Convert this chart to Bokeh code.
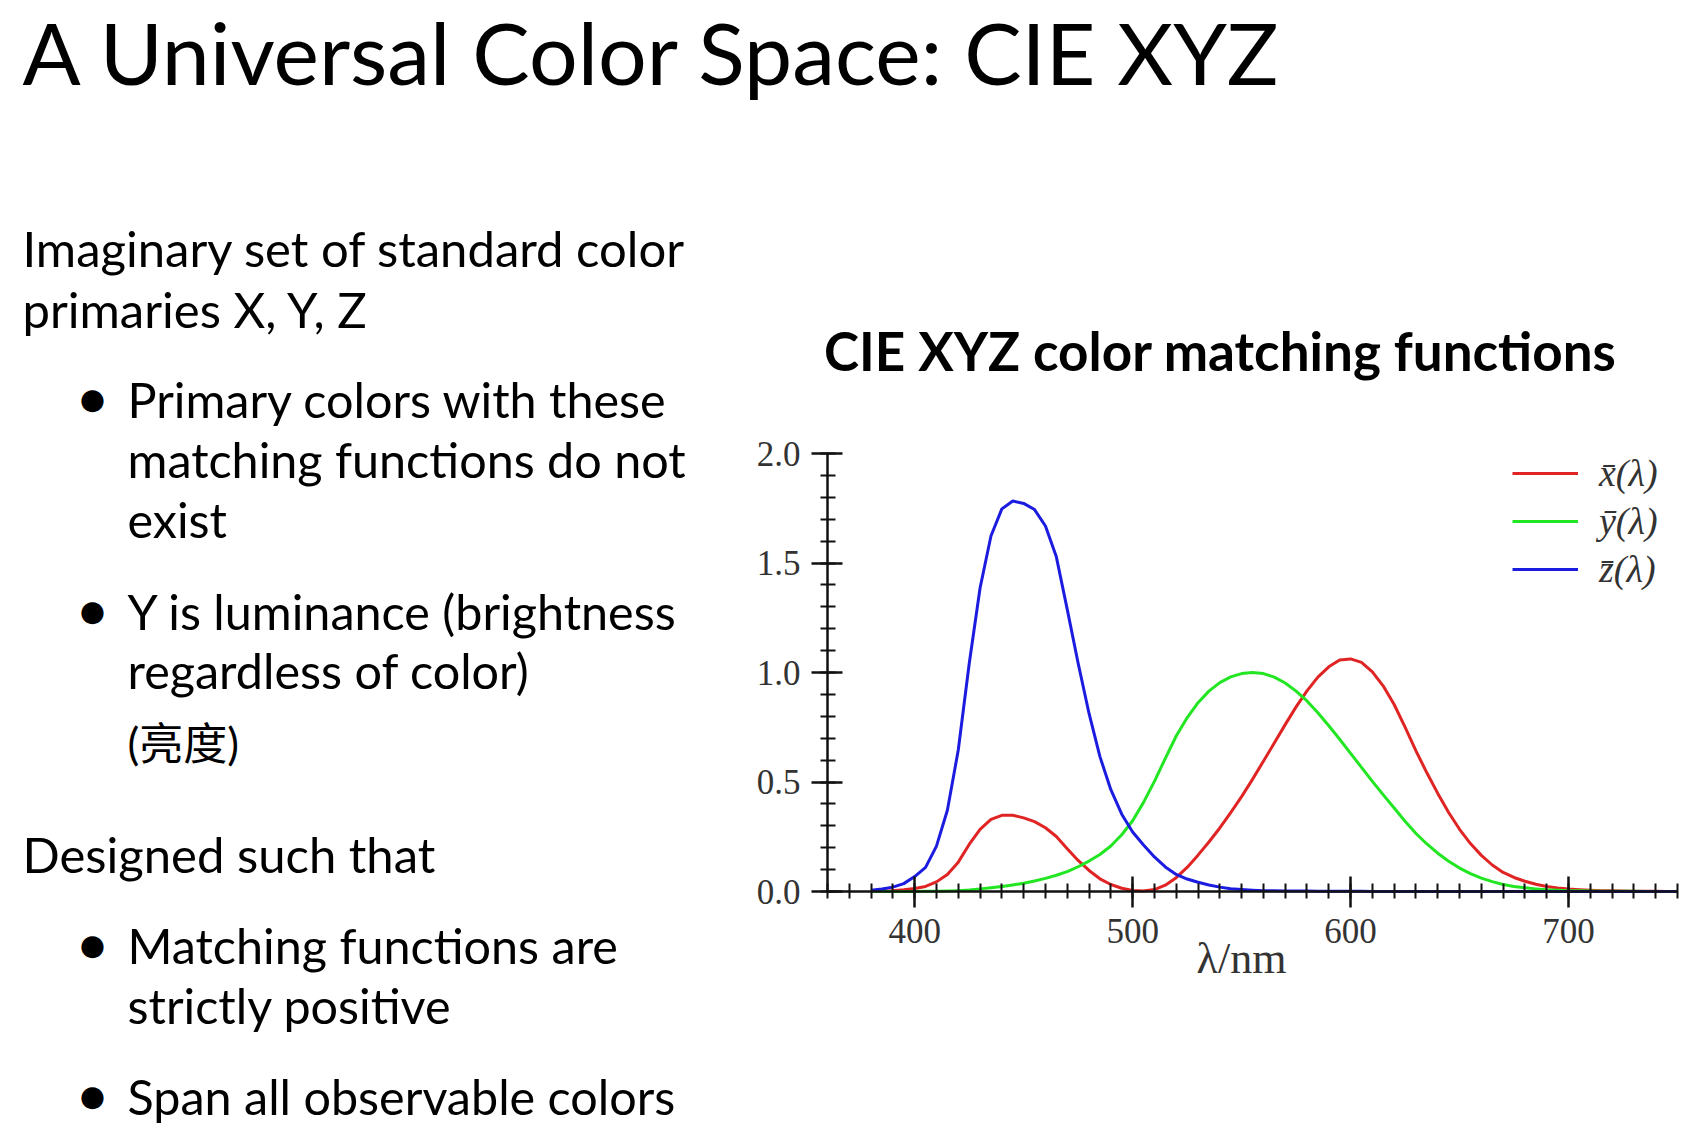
from bokeh.plotting import figure
from bokeh.models import (FixedTicker, PrintfTickFormatter, Legend,
                          LegendItem, Range1d)
from bokeh.core.properties import value
from bokeh.embed import file_html
from bokeh.resources import INLINE

# ---------------- data ----------------
wavelength = [380, 385, 390, 395, 400, 405, 410, 415, 420, 425, 430, 435, 440,
              445, 450, 455, 460, 465, 470, 475, 480, 485, 490, 495, 500, 505,
              510, 515, 520, 525, 530, 535, 540, 545, 550, 555, 560, 565, 570,
              575, 580, 585, 590, 595, 600, 605, 610, 615, 620, 625, 630, 635,
              640, 645, 650, 655, 660, 665, 670, 675, 680, 685, 690, 695, 700,
              705, 710, 715, 720, 725, 730, 735, 740, 745, 750]
x_bar = [0.001, 0.002, 0.004, 0.008, 0.014, 0.023, 0.044, 0.078, 0.134, 0.215,
         0.284, 0.329, 0.348, 0.348, 0.336, 0.319, 0.291, 0.251, 0.195, 0.142,
         0.096, 0.058, 0.032, 0.015, 0.005, 0.002, 0.009, 0.029, 0.063, 0.110,
         0.166, 0.226, 0.290, 0.360, 0.433, 0.512, 0.595, 0.678, 0.762, 0.843,
         0.916, 0.979, 1.026, 1.057, 1.062, 1.046, 1.003, 0.938, 0.854, 0.751,
         0.642, 0.542, 0.448, 0.361, 0.284, 0.219, 0.165, 0.121, 0.087, 0.064,
         0.047, 0.033, 0.023, 0.016, 0.011, 0.008, 0.006, 0.004, 0.003, 0.002,
         0.001, 0.001, 0.001, 0.000, 0.000]
y_bar = [0.000, 0.000, 0.000, 0.000, 0.000, 0.001, 0.001, 0.002, 0.004, 0.007,
         0.012, 0.017, 0.023, 0.030, 0.038, 0.048, 0.060, 0.074, 0.091, 0.113,
         0.139, 0.169, 0.208, 0.259, 0.323, 0.407, 0.503, 0.608, 0.710, 0.793,
         0.862, 0.915, 0.954, 0.980, 0.995, 1.000, 0.995, 0.979, 0.952, 0.915,
         0.870, 0.816, 0.757, 0.695, 0.631, 0.567, 0.503, 0.441, 0.381, 0.321,
         0.265, 0.217, 0.175, 0.138, 0.107, 0.082, 0.061, 0.045, 0.032, 0.023,
         0.017, 0.012, 0.008, 0.006, 0.004, 0.003, 0.002, 0.001, 0.001, 0.001,
         0.001, 0.000, 0.000, 0.000, 0.000]
z_bar = [0.006, 0.011, 0.020, 0.036, 0.068, 0.110, 0.207, 0.371, 0.646, 1.039,
         1.386, 1.623, 1.747, 1.783, 1.772, 1.744, 1.669, 1.528, 1.288, 1.042,
         0.813, 0.616, 0.465, 0.353, 0.272, 0.212, 0.158, 0.112, 0.078, 0.057,
         0.042, 0.030, 0.020, 0.013, 0.009, 0.006, 0.004, 0.003, 0.002, 0.002,
         0.002, 0.001, 0.001, 0.001, 0.001, 0.001, 0.000, 0.000, 0.000, 0.000,
         0.000, 0.000, 0.000, 0.000, 0.000, 0.000, 0.000, 0.000, 0.000, 0.000,
         0.000, 0.000, 0.000, 0.000, 0.000, 0.000, 0.000, 0.000, 0.000, 0.000,
         0.000, 0.000, 0.000, 0.000, 0.000]
series_labels = ["x\u0304(\u03bb)", "y\u0304(\u03bb)", "z\u0304(\u03bb)"]
series_colors = ["#e02424", "#22e622", "#1c1ce0"]
x_major_ticks = [400, 500, 600, 700]
y_major_ticks = [0.0, 0.5, 1.0, 1.5, 2.0]
x_label = "\u03bb/nm"
chart_title = "CIE XYZ color matching functions"
slide_title = "A Universal Color Space: CIE XYZ"
body_lines = ["Imaginary set of standard color", "primaries X, Y, Z",
              "Designed such that"]
bullet_lines = ["Primary colors with these", "matching functions do not",
                "exist", "Y is luminance (brightness", "regardless of color)",
                "Matching functions are", "strictly positive",
                "Span all observable colors"]
cjk_line = "(亮度)"

# ---------------- layout ----------------
W, H = 1692, 1128
AX_L, AX_R, AX_T, AX_B = 827, 1677, 453, 891   # chart axes box, canvas px
X0, X1, Y0, Y1 = 360, 750, 0.0, 2.0             # chart data extents
kx = (AX_R - AX_L) / (X1 - X0)
ky = (AX_B - AX_T) / (Y1 - Y0)

p = figure(width=W, height=H, output_backend="svg", toolbar_location=None,
           x_range=Range1d(X0 - AX_L / kx, X1 + (W - AX_R) / kx),
           y_range=Range1d(Y0 - (H - AX_B) / ky, Y1 + AX_T / ky),
           min_border=0)
p.extra_x_ranges = {"px": Range1d(0, W)}
p.extra_y_ranges = {"px": Range1d(H, 0)}
p.background_fill_color = "white"
p.border_fill_color = "white"
p.outline_line_color = None
p.xgrid.visible = False
p.ygrid.visible = False

SERIF = "Liberation Serif"
xa, ya = p.xaxis[0], p.yaxis[0]
xa.fixed_location = Y0
ya.fixed_location = X0
xa.bounds = (X0, X1)
ya.bounds = (Y0, Y1)
for ax in (xa, ya):
    ax.axis_line_color = "#111111"
    ax.axis_line_width = 2.5
    ax.major_tick_line_color = "#111111"
    ax.major_tick_line_width = 2.5
    ax.minor_tick_line_color = "#111111"
    ax.minor_tick_line_width = 2
    ax.major_tick_in = 15
    ax.major_tick_out = 16
    ax.minor_tick_in = 8
    ax.minor_tick_out = 7
    ax.major_label_text_font = SERIF
    ax.major_label_text_font_size = "35px"
    ax.major_label_text_color = "#333333"
    ax.major_label_standoff = 11

xa.ticker = FixedTicker(ticks=x_major_ticks,
                        minor_ticks=list(range(X0, X1 + 1, 10)))
ya.ticker = FixedTicker(ticks=y_major_ticks,
                        minor_ticks=[i / 10 for i in range(0, 21)])
ya.formatter = PrintfTickFormatter(format="%.1f")

renderers = []
for ys, col in zip([x_bar, y_bar, z_bar], series_colors):
    renderers.append(p.line(wavelength, ys, line_color=col, line_width=3,
                            line_join="round"))

GH, GSP = 46, 2
leg_h = 3 * GH + 2 * GSP
legend = Legend(items=[LegendItem(label=value(lab), renderers=[r])
                       for lab, r in zip(series_labels, renderers)],
                location=(1512, H - (450 + leg_h)), orientation="vertical",
                border_line_color=None, background_fill_alpha=0,
                padding=0, margin=0, spacing=GSP,
                glyph_width=66, glyph_height=GH, label_height=GH,
                label_standoff=21,
                label_text_font=SERIF, label_text_font_style="italic",
                label_text_font_size="38px", label_text_color="#333333",
                label_text_baseline="middle")
p.add_layout(legend)


def add_text(xs, ys, txts, size, font="Lato", style="normal", align="left",
             color="black"):
    p.text(x=xs, y=ys, text=txts, x_range_name="px", y_range_name="px",
           text_font=value(font), text_font_size=value(size),
           text_font_style=style, text_align=align,
           text_baseline="middle", text_color=color)


add_text([22], [51], [slide_title], "86px")
add_text([1220], [350], [chart_title], "53px", style="bold", align="center")
add_text([1241], [958], [x_label], "44px", font=SERIF, color="#333333",
         align="center")

add_text([22, 22, 22], [247, 308, 853], body_lines, "49px")
bullet_y = [398, 458, 518, 610, 669, 944, 1004, 1095]
add_text([127] * len(bullet_lines), bullet_y, bullet_lines, "48.5px")
add_text([127], [742], [cjk_line], "44px", font="Lato, 'Noto Sans CJK SC'")
dot_y = [398, 610, 944, 1095]
add_text([92] * len(dot_y), dot_y, ["\u25cf"] * len(dot_y), "29px",
         font="DejaVu Sans", align="center")

open("out.html", "w").write(file_html(p, INLINE))
